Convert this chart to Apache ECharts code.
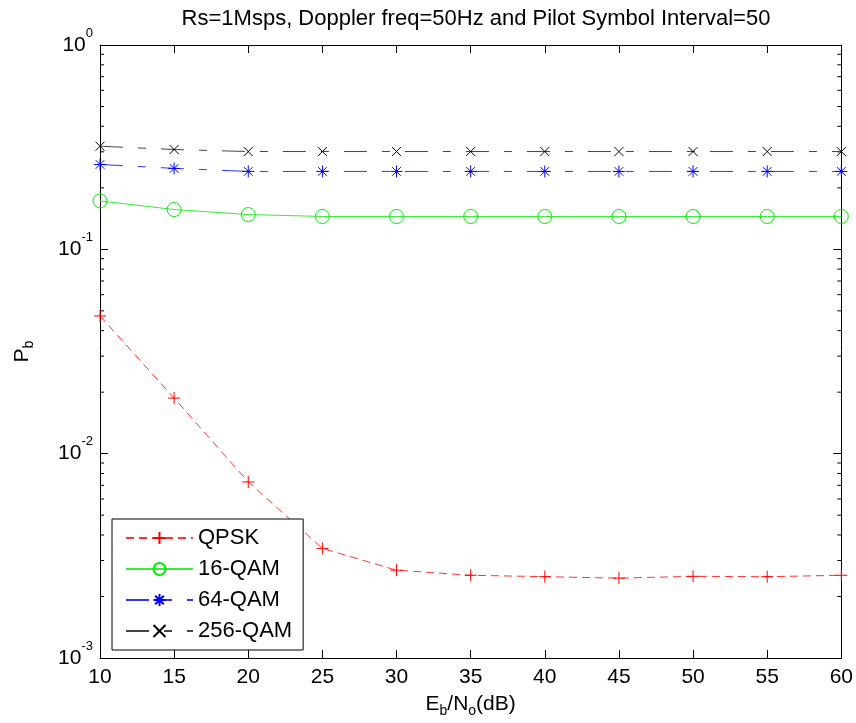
<!DOCTYPE html>
<html><head><meta charset="utf-8">
<script src="https://cdn.jsdelivr.net/npm/echarts@6/dist/echarts.min.js"></script>
<style>html,body{margin:0;padding:0;background:#fff}#c{width:856px;height:723px}</style>
</head><body><div id="c"></div>
<script>
// ---- data ----
const ebno = [10, 15, 20, 25, 30, 35, 40, 45, 50, 55, 60];
const qpsk = [0.0472, 0.0187, 0.00727, 0.00344, 0.00269, 0.00254, 0.00250, 0.00246, 0.00251, 0.00250, 0.00254];
const qam16 = [0.1725, 0.1566, 0.148, 0.1448, 0.1448, 0.1448, 0.1448, 0.1448, 0.1448, 0.1448, 0.1448];
const qam64 = [0.2603, 0.249, 0.2406, 0.2406, 0.2406, 0.2406, 0.2406, 0.2406, 0.2406, 0.2406, 0.2406];
const qam256 = [0.3196, 0.308, 0.301, 0.301, 0.301, 0.301, 0.301, 0.301, 0.301, 0.301, 0.301];
const seriesNames = ['QPSK', '16-QAM', '64-QAM', '256-QAM'];
const minorTickValues = [0.002,0.003,0.004,0.005,0.006,0.007,0.008,0.009,
  0.02,0.03,0.04,0.05,0.06,0.07,0.08,0.09,
  0.2,0.3,0.4,0.5,0.6,0.7,0.8,0.9];
const titleText = 'Rs=1Msps, Doppler freq=50Hz and Pilot Symbol Interval=50';

const FF = '"Liberation Sans", Arial, Helvetica, sans-serif';
const pair = (ys) => ebno.map((x, i) => [x, ys[i]]);

const plusPath = 'path://M0,-1L0,1M-1,0L1,0';
const starPath = 'path://M0,-1L0,1M-1,0L1,0M-0.72,-0.72L0.72,0.72M-0.72,0.72L0.72,-0.72';
const xPath = 'path://M-1,-1L1,1M-1,1L1,-1';
const circlePath = 'path://M1,0A1,1,0,1,1,-1,0A1,1,0,1,1,1,0Z';

const chart = echarts.init(document.getElementById('c'), null, {renderer: 'canvas'});
const axisLine = {show: true, lineStyle: {color: '#000', width: 1}};
chart.setOption({
  animation: false,
  backgroundColor: '#fff',
  textStyle: {fontFamily: FF},
  title: {
    text: titleText, left: 471, top: 3, textAlign: 'center',
    textStyle: {fontSize: 22, fontWeight: 'normal', color: '#000', fontFamily: FF}
  },
  grid: {left: 100, right: 13, top: 45, bottom: 62, containLabel: false},
  legend: {
    data: seriesNames, orient: 'vertical', left: 112, top: 519,
    itemWidth: 67, itemHeight: 15, itemGap: 9,
    padding: [8, 11, 8, 13],
    borderColor: '#000', borderWidth: 1, backgroundColor: '#fff',
    textStyle: {fontSize: 22, color: '#000', fontFamily: FF},
    selectedMode: false
  },
  xAxis: [{
    type: 'value', min: 10, max: 60, interval: 5, position: 'bottom',
    axisLine: axisLine,
    axisTick: {show: true, inside: true, length: 8, lineStyle: {color: '#000'}},
    axisLabel: {fontSize: 21, color: '#000', margin: 9, fontFamily: FF},
    splitLine: {show: false},
    name: '{n|E}{s|b}{n|/N}{s|o}{n|(dB)}', nameLocation: 'middle', nameGap: 32,
    nameTextStyle: {rich: {
      n: {fontSize: 21, color: '#000', fontFamily: FF},
      s: {fontSize: 14, color: '#000', fontFamily: FF, padding: [14, 0, 0, 0]}
    }}
  }, {
    type: 'value', min: 10, max: 60, interval: 5, position: 'top',
    axisLine: axisLine,
    axisTick: {show: true, inside: true, length: 8, lineStyle: {color: '#000'}},
    axisLabel: {show: false}, splitLine: {show: false}
  }],
  yAxis: [{
    type: 'log', logBase: 10, min: 0.001, max: 1, position: 'left',
    axisLine: axisLine,
    axisTick: {show: true, inside: true, length: 8, lineStyle: {color: '#000'}},
    splitLine: {show: false},
    axisLabel: {
      margin: 7,
      formatter: (v) => '{b|10}{s|' + Math.round(Math.log10(v)) + '}',
      rich: {
        b: {fontSize: 21, color: '#000', fontFamily: FF},
        s: {fontSize: 13, color: '#000', fontFamily: FF, padding: [0, 0, 24, 0]}
      }
    },
    name: '{n|P}{s|b}', nameLocation: 'middle', nameGap: 64, nameRotate: 90,
    nameTextStyle: {rich: {
      n: {fontSize: 21, color: '#000', fontFamily: FF},
      s: {fontSize: 14, color: '#000', fontFamily: FF, padding: [14, 0, 0, 0]}
    }}
  }, {
    type: 'log', logBase: 10, min: 0.001, max: 1, position: 'right',
    axisLine: axisLine,
    axisTick: {show: true, inside: true, length: 8, lineStyle: {color: '#000'}},
    axisLabel: {show: false}, splitLine: {show: false}
  }],
  series: [{
    name: 'QPSK', type: 'line', data: pair(qpsk),
    symbol: plusPath, symbolSize: 12,
    itemStyle: {color: '#ff0000', borderColor: '#ff0000', borderWidth: 1},
    lineStyle: {color: '#ff3333', width: 1, type: [8, 5]}
  }, {
    name: '16-QAM', type: 'line', data: pair(qam16),
    symbol: circlePath, symbolSize: 14,
    itemStyle: {color: 'rgba(0,0,0,0)', borderColor: '#00ee00', borderWidth: 1},
    lineStyle: {color: '#33ee33', width: 1, type: 'solid'}
  }, {
    name: '64-QAM', type: 'line', data: pair(qam64),
    symbol: starPath, symbolSize: 12,
    itemStyle: {color: '#0000ff', borderColor: '#0000ff', borderWidth: 1},
    lineStyle: {color: '#3333ff', width: 1, type: [23, 15, 8, 15]}
  }, {
    name: '256-QAM', type: 'line', data: pair(qam256),
    symbol: xPath, symbolSize: 9,
    itemStyle: {color: '#000000', borderColor: '#000000', borderWidth: 1},
    lineStyle: {color: '#444444', width: 1, type: [23, 15, 8, 15]}
  }, {
    name: 'minorTicks', type: 'custom', silent: true,
    data: minorTickValues.map(v => [10, v]),
    encode: {x: 0, y: 1},
    renderItem: (params, api) => {
      const v = api.value(1);
      const L = api.coord([10, v]);
      const R = api.coord([60, v]);
      return {type: 'group', children: [
        {type: 'line', shape: {x1: L[0], y1: L[1], x2: L[0] + 4, y2: L[1]}, style: {stroke: '#000', lineWidth: 1}},
        {type: 'line', shape: {x1: R[0], y1: R[1], x2: R[0] - 4, y2: R[1]}, style: {stroke: '#000', lineWidth: 1}}
      ]};
    }
  }]
});
</script></body></html>
